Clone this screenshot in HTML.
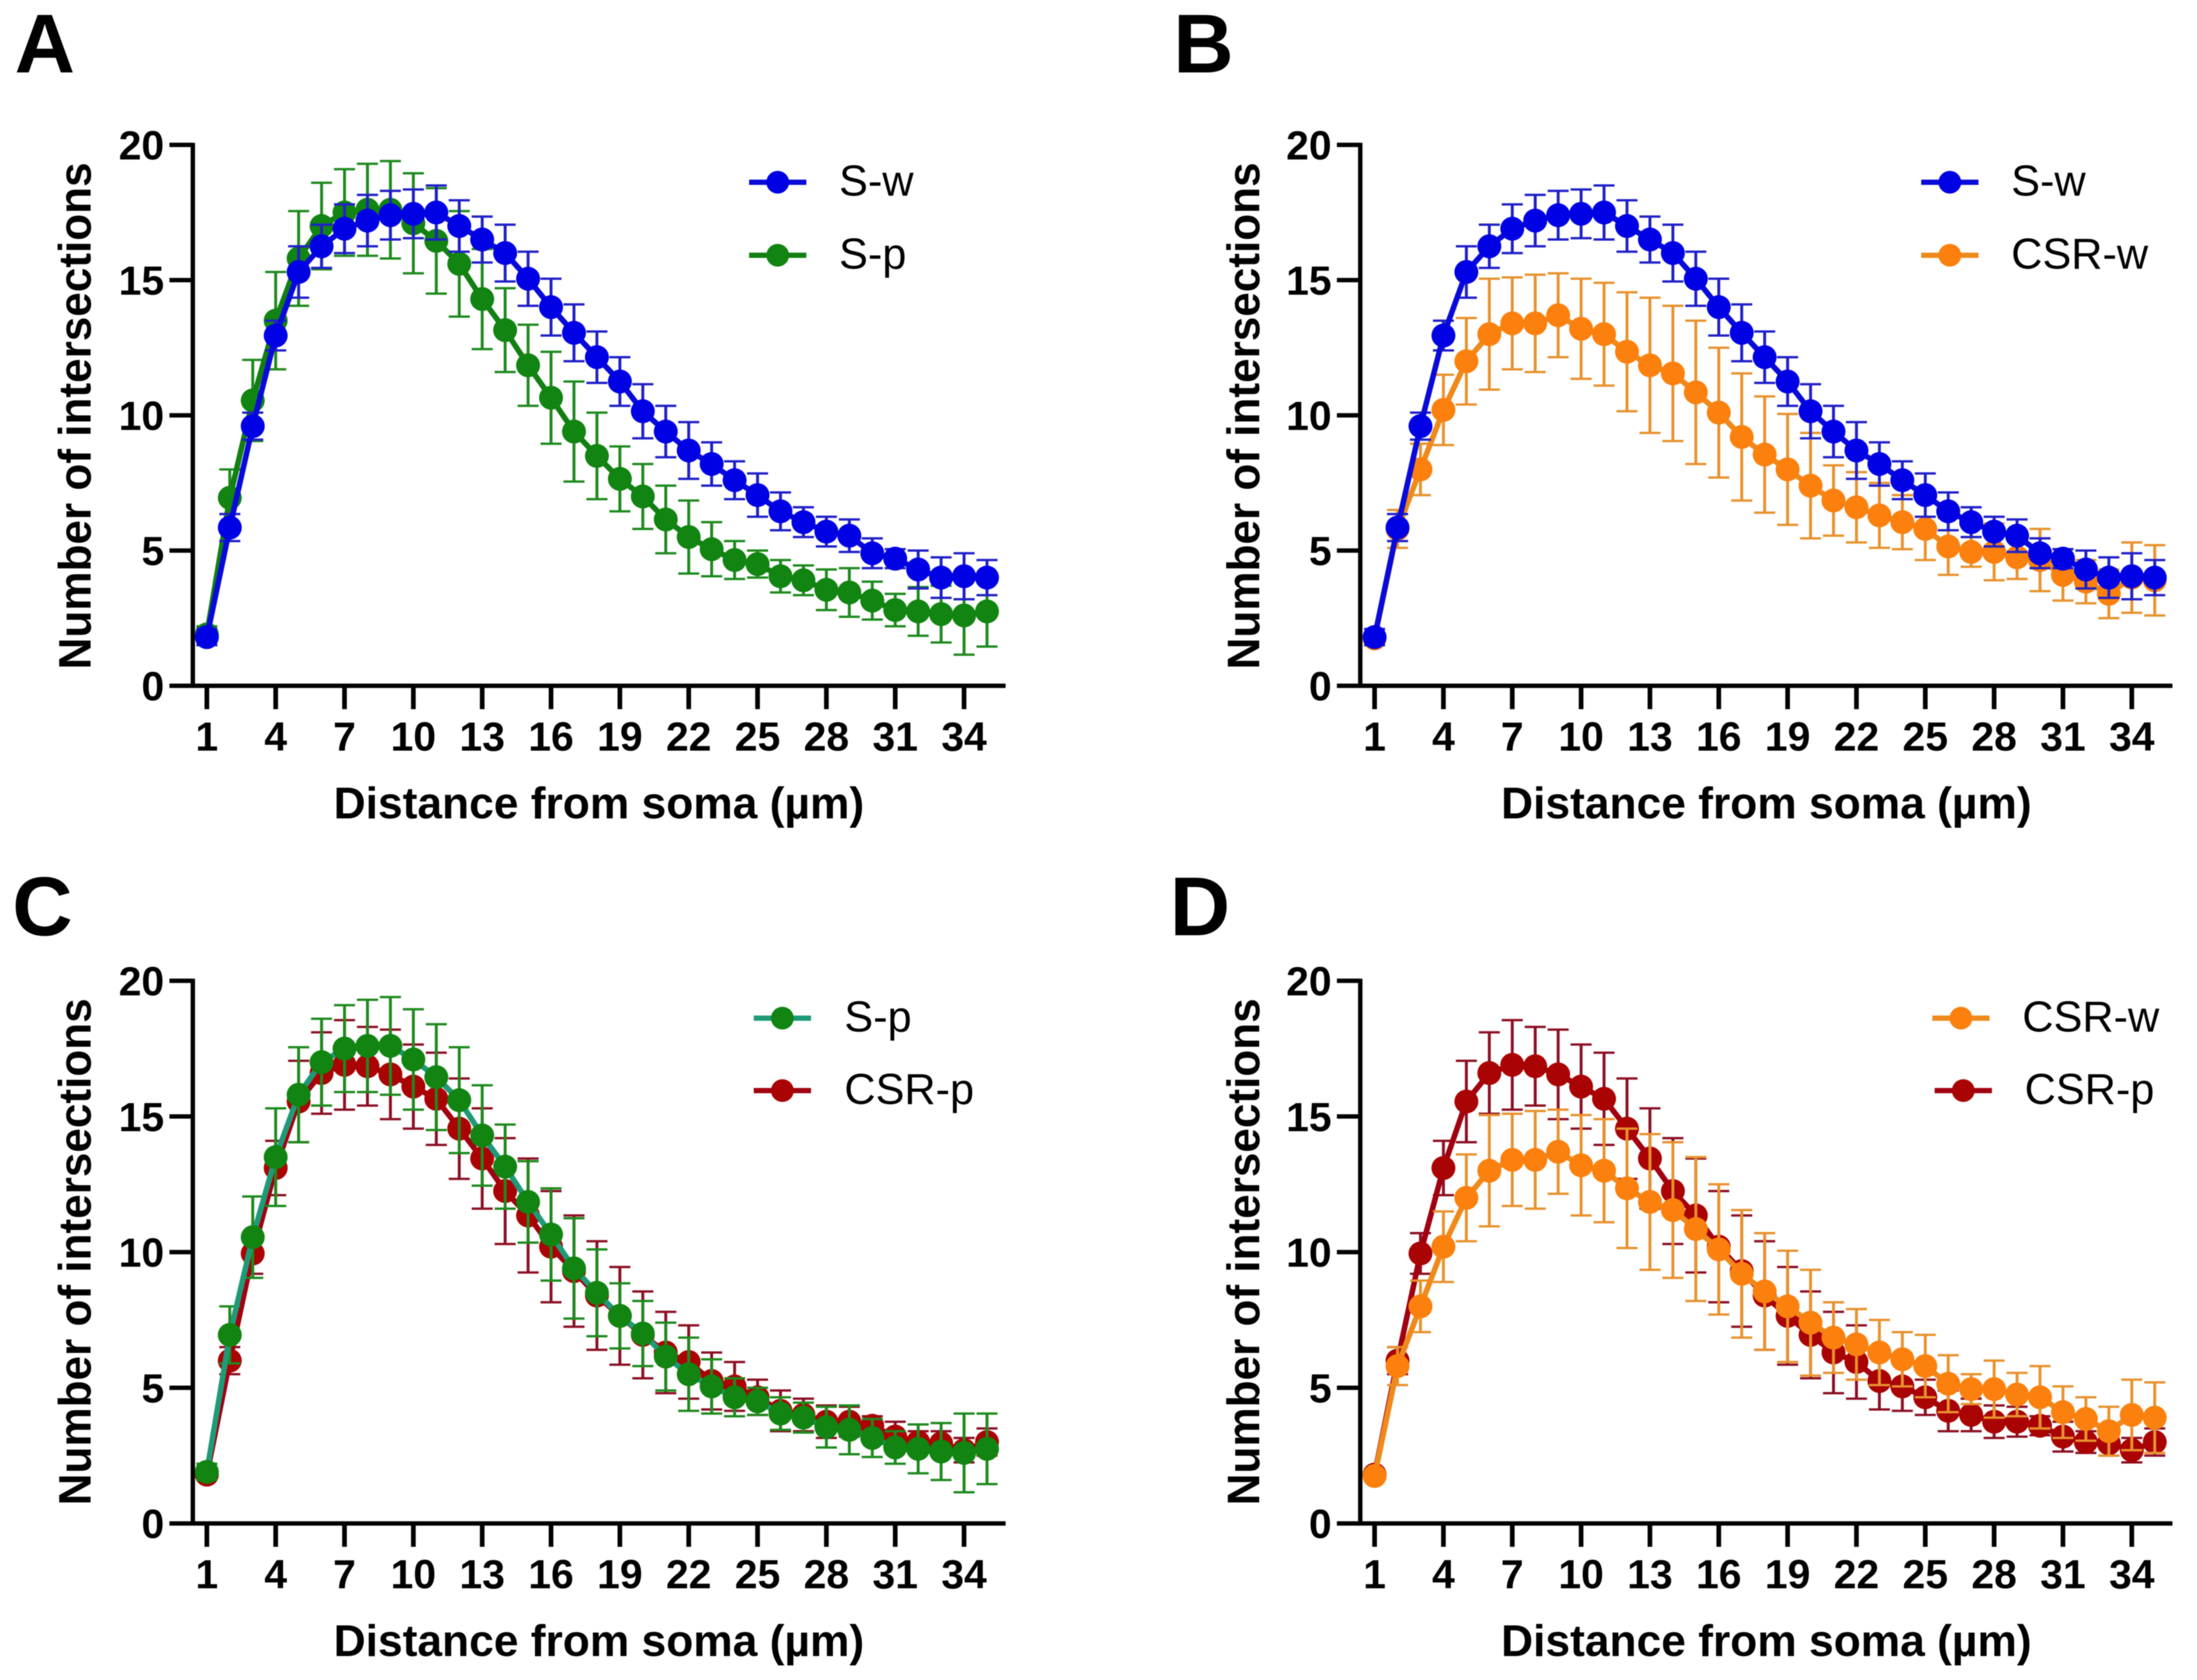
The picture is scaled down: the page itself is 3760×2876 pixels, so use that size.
<!DOCTYPE html>
<html lang="en">
<head>
<meta charset="utf-8">
<title>Sholl analysis: number of intersections by distance from soma</title>
<style>
html,body{margin:0;padding:0;background:#fff;overflow:hidden;}
svg{display:block;font-family:"Liberation Sans",Arial,sans-serif;filter:blur(0.8px);}
</style>
</head>
<body>
<svg id="figure" xmlns="http://www.w3.org/2000/svg" width="3760" height="2876" viewBox="0 0 3760 2876">
<rect x="0" y="0" width="3760" height="2876" fill="#ffffff"/>
</svg>
<script>
// ---- Data ----
const distances = [1,2,3,4,5,6,7,8,9,10,11,12,13,14,15,16,17,18,19,20,21,22,23,24,25,26,27,28,29,30,31,32,33,34,35];
const xTickLabels = [1,4,7,10,13,16,19,22,25,28,31,34];
const yTickLabels = [0,5,10,15,20];

const swMean = [1.8,5.85,9.6,12.95,15.3,16.25,16.9,17.2,17.4,17.45,17.5,17.0,16.5,16.0,15.05,14.0,13.05,12.15,11.25,10.15,9.4,8.7,8.2,7.6,7.05,6.45,6.05,5.7,5.55,4.9,4.7,4.3,4.0,4.05,4.0];
const swErr = [0.3,0.5,0.5,0.55,0.95,0.8,0.9,0.95,0.9,0.9,1.0,0.95,0.85,1.05,1.0,1.05,1.05,0.95,0.9,1.0,0.95,1.05,0.8,0.7,0.8,0.7,0.55,0.55,0.6,0.55,0.35,0.7,0.75,0.85,0.65];

const spMean = [1.9,6.95,10.55,13.5,15.8,17.0,17.5,17.6,17.6,17.1,16.45,15.6,14.3,13.15,11.85,10.65,9.4,8.5,7.65,7.0,6.15,5.5,5.05,4.65,4.5,4.05,3.9,3.55,3.45,3.15,2.8,2.75,2.65,2.6,2.75];
const spErr = [0.3,1.05,1.5,1.8,1.75,1.6,1.6,1.7,1.8,1.85,1.95,1.95,1.85,1.55,1.5,1.7,1.85,1.6,1.2,1.2,1.25,1.35,1.0,0.7,0.5,0.6,0.55,0.75,0.9,0.7,0.6,0.9,1.05,1.45,1.3];

const csrwMean = [1.75,5.8,8.0,10.2,12.0,13.0,13.4,13.4,13.7,13.2,13.0,12.35,11.85,11.55,10.85,10.1,9.2,8.55,8.0,7.4,6.85,6.6,6.3,6.05,5.8,5.15,4.95,4.95,4.75,4.65,4.1,3.85,3.4,4.0,3.9];
const csrwErr = [0.2,0.7,0.95,1.3,1.6,2.05,1.7,1.8,1.55,1.85,1.9,2.2,2.5,2.5,2.65,2.4,2.35,2.15,2.05,1.95,1.3,1.3,1.2,1.0,1.15,1.05,0.55,1.05,0.8,1.15,0.95,0.8,0.9,1.3,1.3];

const csrpMean = [1.8,6.0,9.95,13.1,15.55,16.6,16.9,16.85,16.55,16.1,15.65,14.55,13.45,12.25,11.35,10.2,9.3,8.4,7.65,6.95,6.3,5.95,5.25,5.05,4.65,4.15,4.0,3.75,3.75,3.6,3.2,3.0,2.95,2.7,3.0];
const csrpErr = [0.2,0.5,0.75,1.0,1.5,1.5,1.65,1.45,1.65,1.55,1.7,1.85,1.85,1.95,2.1,2.05,2.05,2.0,1.8,1.6,1.5,1.35,1.05,0.9,0.65,0.75,0.6,0.6,0.55,0.35,0.55,0.4,0.45,0.45,0.5];

// ---- Rendering ----
const SVG_NS = 'http://www.w3.org/2000/svg';
const figure = document.getElementById('figure');

const BLUE = {name:'S-w', marker:'#0000e4', line:'#0a0ad8', err:'#2020c8'};
const GREEN = {name:'S-p', marker:'#118411', line:'#127f12', err:'#1e8a1e'};
const TEAL = {name:'S-p', marker:'#118411', line:'#1f9a78', err:'#1e8a1e'};
const ORANGE = {name:'CSR-w', marker:'#fb800d', line:'#ee8a1c', err:'#e8922e'};
const DARKRED = {name:'CSR-p', marker:'#aa0303', line:'#a00010', err:'#8c1024'};

const panels = [
  {id:'a', letter:'A', letterX:25, letterY:124, axisX:330, tick1:354, yTop:248, yBottom:1174, right:1721,
   xTitleX:1025, xTitleY:1401, yTitleX:155, yTitleY:712,
   legendX:1331, legendTextX:1436, legendY:[312,437],
   draw:[[GREEN,spMean,spErr],[BLUE,swMean,swErr]], legend:[BLUE,GREEN]},
  {id:'b', letter:'B', letterX:2008, letterY:124, axisX:2328, tick1:2352.5, yTop:248, yBottom:1174, right:3718,
   xTitleX:3023, xTitleY:1401, yTitleX:2155, yTitleY:712,
   legendX:3337, legendTextX:3442, legendY:[312,437],
   draw:[[ORANGE,csrwMean,csrwErr],[BLUE,swMean,swErr]], legend:[BLUE,ORANGE]},
  {id:'c', letter:'C', letterX:21, letterY:1601, axisX:330, tick1:354, yTop:1679, yBottom:2608, right:1721,
   xTitleX:1025, xTitleY:2835, yTitleX:155, yTitleY:2143,
   legendX:1339, legendTextX:1445, legendY:[1743,1867],
   draw:[[DARKRED,csrpMean,csrpErr],[TEAL,spMean,spErr]], legend:[TEAL,DARKRED]},
  {id:'d', letter:'D', letterX:2002, letterY:1601, axisX:2328, tick1:2352.5, yTop:1679, yBottom:2608, right:3718,
   xTitleX:3023, xTitleY:2835, yTitleX:2155, yTitleY:2143,
   legendX:[3356,3360], legendTextX:[3461,3465], legendY:[1743,1867],
   draw:[[DARKRED,csrpMean,csrpErr],[ORANGE,csrwMean,csrwErr]], legend:[ORANGE,DARKRED]}
];

function group(parent, name) {
  const el = document.createElementNS(SVG_NS, 'g');
  
  
  parent.appendChild(el);
  return el;
}
function drawLine(parent, name, x1, y1, x2, y2, color, width) {
  const el = document.createElementNS(SVG_NS, 'line');
  
  
  el.setAttribute('x1', x1);
  el.setAttribute('y1', y1);
  el.setAttribute('x2', x2);
  el.setAttribute('y2', y2);
  el.setAttribute('stroke', color);
  el.setAttribute('stroke-width', width);
  parent.appendChild(el);
  return el;
}
function drawText(parent, name, content, x, y, size, weight, anchor) {
  const el = document.createElementNS(SVG_NS, 'text');
  
  
  el.setAttribute('x', x);
  el.setAttribute('y', y);
  el.setAttribute('font-size', size);
  el.setAttribute('font-weight', weight);
  el.setAttribute('text-anchor', anchor);
  el.setAttribute('fill', '#000000');
  el.textContent = content;
  parent.appendChild(el);
  return el;
}
function drawCircle(parent, name, cx, cy, r, color) {
  const el = document.createElementNS(SVG_NS, 'circle');
  
  
  el.setAttribute('cx', cx);
  el.setAttribute('cy', cy);
  el.setAttribute('r', r);
  el.setAttribute('fill', color);
  parent.appendChild(el);
  return el;
}

panels.forEach(function (p) {
  const STEP = 39.27;
  const unit = (p.yBottom - p.yTop) / 20;
  const xScale = function (v) { return p.tick1 + (v - 1) * STEP; };
  const yScale = function (v) { return p.yBottom - v * unit; };

  const panel = group(figure, 'panel-' + p.id);
  drawText(panel, 'panel-label-' + p.id, p.letter, p.letterX, p.letterY, 143, 700, 'start');

  // axes
  const axes = group(panel, 'axes-' + p.id);
  drawLine(axes, 'y-axis-line', p.axisX, p.yTop - 3.5, p.axisX, p.yBottom + 3.5, '#000', 7.5);
  drawLine(axes, 'x-axis-line', p.axisX - 40, p.yBottom, p.right, p.yBottom, '#000', 7.5);
  yTickLabels.forEach(function (v) {
    if (v !== 0) {
      drawLine(axes, 'y-tick-' + v, p.axisX - 40, yScale(v), p.axisX, yScale(v), '#000', 7.5);
    }
    drawText(axes, 'y-tick-label-' + v, String(v), p.axisX - 49, yScale(v) + 25, 70, 700, 'end');
  });
  xTickLabels.forEach(function (v) {
    drawLine(axes, 'x-tick-' + v, xScale(v), p.yBottom, xScale(v), p.yBottom + 40, '#000', 8);
    drawText(axes, 'x-tick-label-' + v, String(v), xScale(v), p.yBottom + 111, 70, 700, 'middle');
  });
  const xTitle = drawText(axes, 'x-axis-title', 'Distance from soma (µm)', p.xTitleX, p.xTitleY, 76, 700, 'middle');
  xTitle.setAttribute('textLength', '908');
  xTitle.setAttribute('lengthAdjust', 'spacingAndGlyphs');
  const yTitle = drawText(axes, 'y-axis-title', 'Number of intersections', p.yTitleX, p.yTitleY, 78, 700, 'middle');
  yTitle.setAttribute('transform', 'rotate(-90 ' + p.yTitleX + ' ' + p.yTitleY + ')');
  yTitle.setAttribute('textLength', '868');
  yTitle.setAttribute('lengthAdjust', 'spacingAndGlyphs');

  // series
  p.draw.forEach(function (entry) {
    const style = entry[0];
    const means = entry[1];
    const errs = entry[2];
    const series = group(panel, 'series-' + style.name.toLowerCase());
    distances.forEach(function (d, i) {
      const x = xScale(d);
      const hi = yScale(means[i] + errs[i]);
      const lo = yScale(means[i] - errs[i]);
      const bar = group(series, 'error-bar-' + d);
      drawLine(bar, 'error-stem', x, hi, x, lo, style.err, 5);
      drawLine(bar, 'error-cap-upper', x - 18, hi, x + 18, hi, style.err, 4);
      drawLine(bar, 'error-cap-lower', x - 18, lo, x + 18, lo, style.err, 4);
    });
    const path = document.createElementNS(SVG_NS, 'polyline');
    
    
    path.setAttribute('points', distances.map(function (d, i) {
      return xScale(d) + ',' + yScale(means[i]);
    }).join(' '));
    path.setAttribute('fill', 'none');
    path.setAttribute('stroke', style.line);
    path.setAttribute('stroke-width', 9.5);
    path.setAttribute('stroke-linejoin', 'round');
    series.appendChild(path);
    distances.forEach(function (d, i) {
      drawCircle(series, 'point-' + d, xScale(d), yScale(means[i]), 20.5, style.marker);
    });
  });

  // legend
  const legend = group(panel, 'legend-' + p.id);
  p.legend.forEach(function (style, i) {
    const entry = group(legend, 'legend-entry-' + style.name.toLowerCase());
    const cx = Array.isArray(p.legendX) ? p.legendX[i] : p.legendX;
    const tx = Array.isArray(p.legendTextX) ? p.legendTextX[i] : p.legendTextX;
    const cy = p.legendY[i];
    drawLine(entry, 'legend-line', cx - 49, cy, cx + 49, cy, style.line, 9);
    drawCircle(entry, 'legend-marker', cx, cy, 19.5, style.marker);
    drawText(entry, 'legend-label', style.name, tx, cy + 23, 74, 400, 'start');
  });
});
</script>
</body>
</html>
